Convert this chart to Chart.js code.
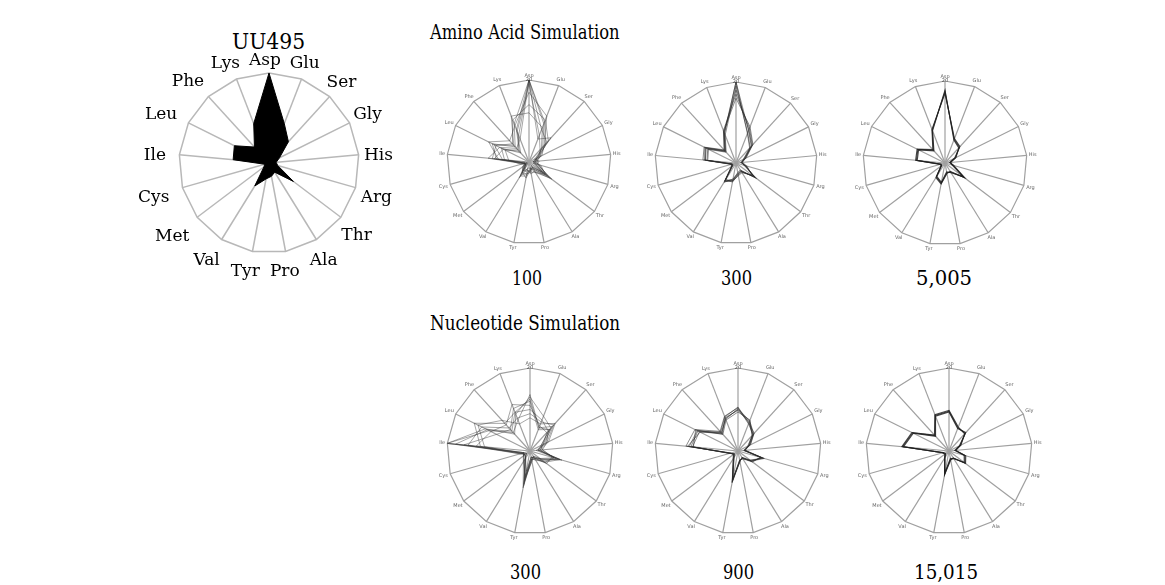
<!DOCTYPE html>
<html>
<head>
<meta charset="utf-8">
<script src="https://cdn.jsdelivr.net/npm/chart.js@4.4.1/dist/chart.umd.min.js"></script>
<style>
  html, body { margin: 0; padding: 0; background: #fff; }
  #fig { position: relative; width: 1165px; height: 585px; overflow: hidden;
         font-family: 'DejaVu Serif Condensed', 'DejaVu Serif', serif; color: #000; }
  .t { position: absolute; white-space: nowrap; line-height: 1; transform-origin: 0 0; }
  canvas { position: absolute; }
</style>
</head>
<body>
<div id="fig">
  <div class="t" data-cx="268" data-w="73" style="top:31px;font-size:22px;">UU495</div>
  <div class="t" data-x="430" data-w="190" style="top:22px;font-size:20px;">Amino Acid Simulation</div>
  <div class="t" data-x="430" data-w="190" style="top:313px;font-size:20px;">Nucleotide Simulation</div>
  <div class="t" data-cx="527" data-w="30" style="top:268px;font-size:21px;">100</div>
  <div class="t" data-cx="736" data-w="31" style="top:268px;font-size:21px;">300</div>
  <div class="t" data-cx="944" data-w="56" style="top:268px;font-size:21px;">5,005</div>
  <div class="t" data-cx="525" data-w="31" style="top:562px;font-size:21px;">300</div>
  <div class="t" data-cx="738" data-w="31" style="top:562px;font-size:21px;">900</div>
  <div class="t" data-cx="946" data-w="64" style="top:562px;font-size:21px;">15,015</div>

  <canvas id="uu495"></canvas>
  <canvas id="aa100"></canvas>
  <canvas id="aa300"></canvas>
  <canvas id="aa5005"></canvas>
  <canvas id="nt300"></canvas>
  <canvas id="nt900"></canvas>
  <canvas id="nt15015"></canvas>
</div>

<script>
// Amino acid axes, clockwise from the top
const residues = ['Asp','Glu','Ser','Gly','His','Arg','Thr','Ala','Pro','Tyr','Val','Met','Cys','Ile','Leu','Phe','Lys'];
const scaleMax = 20;

// Observed composition of UU495
const uu495 = [20, 9.4, 6.4, 2.6, 1.6, 2.0, 6.8, 2.4, 3.0, 3.6, 6.0, 1.4, 1.0, 8.0, 8.6, 4.8, 9.4];

// Amino acid simulation, 100 generations
const aa100_1 = [20, 10, 5, 2, 1.5, 2.5, 6, 2, 2, 3, 3.5, 1, 1.5, 8, 10, 5, 10];
const aa100_2 = [19, 7, 4, 3, 2, 1.5, 4.5, 1.5, 2.5, 2, 2.5, 1, 1, 6, 7.5, 3, 8];
const aa100_3 = [14, 11, 7, 2.5, 1, 3, 5, 3, 1.5, 3.5, 4, 1.5, 1, 9, 9, 6, 11];
const aa100_4 = [20, 8.5, 6.5, 1.5, 2.5, 2, 7, 2.5, 3, 2, 2, 0.5, 2, 5, 6.5, 4, 7];
const aa100_5 = [17, 12, 5.5, 3.5, 1.5, 1, 4, 1.5, 2, 4, 3, 1.5, 0.5, 7.5, 11, 7, 9.5];
const aa100_6 = [20, 6, 8, 2, 2, 2.5, 5.5, 2, 1.5, 1.5, 4.5, 1, 1.5, 10, 8, 4.5, 6];
const aa100_7 = [12, 9, 4.5, 2.5, 1, 2, 6.5, 3, 2.5, 3, 3, 2, 1, 6.5, 9.5, 5.5, 12];
const aa100_8 = [20, 10.5, 6, 3, 1.5, 1.5, 5, 1, 2, 2.5, 2.5, 1, 1, 8.5, 7, 3.5, 8.5];

// Amino acid simulation, 300 generations
const aa300_1 = [20, 8.6, 5.6, 2.4, 1.4, 2.4, 5.6, 2.4, 2.8, 4.4, 5.2, 1.2, 1.0, 7.6, 8.2, 4.0, 8.0];
const aa300_2 = [17, 9.2, 6.0, 2.6, 1.6, 2.0, 6.0, 2.2, 2.6, 4.0, 5.6, 1.4, 1.2, 8.2, 8.8, 4.4, 8.6];
const aa300_3 = [19, 8.0, 5.2, 2.2, 1.2, 2.6, 5.2, 2.6, 3.0, 4.8, 4.8, 1.0, 0.8, 7.0, 7.6, 3.6, 7.4];
const aa300_4 = [16, 9.6, 6.2, 2.8, 1.4, 2.2, 6.4, 2.0, 2.4, 4.2, 5.0, 1.2, 1.0, 7.8, 8.6, 4.2, 8.4];
const aa300_5 = [20, 7.8, 5.0, 2.0, 1.6, 2.8, 5.0, 2.8, 3.2, 4.6, 5.4, 1.4, 1.2, 7.2, 7.8, 3.8, 7.8];
const aa300_6 = [18, 8.8, 5.8, 2.4, 1.2, 2.4, 5.8, 2.4, 2.8, 4.4, 5.2, 1.0, 1.0, 7.6, 8.4, 4.0, 8.2];

// Amino acid simulation, 5,005 generations
const aa5005_1 = [17.4, 6.2, 5.2, 2.8, 1.2, 2.0, 5.8, 2.6, 2.4, 5.0, 4.0, 1.2, 1.0, 7.0, 7.4, 4.2, 8.6];
const aa5005_2 = [17.0, 6.4, 5.4, 2.6, 1.2, 2.2, 6.0, 2.4, 2.6, 5.2, 4.2, 1.2, 1.0, 7.2, 7.6, 4.4, 8.8];
const aa5005_3 = [17.8, 6.0, 5.0, 3.0, 1.4, 1.8, 5.6, 2.8, 2.2, 4.8, 3.8, 1.0, 1.2, 6.8, 7.2, 4.0, 8.4];

// Nucleotide simulation, 300 generations
const nt300_1 = [13.6, 6, 8, 3.5, 2, 7.5, 3.5, 2, 1.5, 8, 2, 1.5, 2, 20, 11, 6, 8];
const nt300_2 = [10, 8, 6.5, 4.5, 3, 6, 4.5, 2.5, 2, 6, 3, 2, 1.5, 12, 15, 9, 10];
const nt300_3 = [12, 5.5, 7, 3, 2, 8, 3, 1.5, 2.5, 7.5, 2.5, 1, 2.5, 16, 9, 7, 11];
const nt300_4 = [8, 7, 9, 5, 2.5, 5.5, 5, 2, 1.5, 5, 2, 1.5, 2, 11, 14, 10, 7];
const nt300_5 = [13, 9, 7.5, 4, 1.5, 7, 4, 2.5, 2, 9, 3, 2, 1.5, 20, 12, 5.5, 9.5];
const nt300_6 = [11, 6.5, 6, 3.5, 2.5, 6.5, 3.5, 1.5, 2.5, 6.5, 2, 1.5, 2.5, 13, 10.5, 8.5, 12];
const nt300_7 = [9, 7.5, 8.5, 4.5, 2, 7.5, 4.5, 2, 1.5, 7, 2.5, 1, 2, 15, 13, 7.5, 8.5];
const nt300_8 = [12.5, 6, 7, 3, 3, 6, 3, 2, 2, 8.5, 2, 2, 1.5, 18, 11.5, 6.5, 10];

// Nucleotide simulation, 900 generations
const nt900_1 = [10, 7.6, 5.4, 3.0, 1.6, 6.0, 4.0, 2.0, 2.4, 7.2, 2.0, 1.2, 2.0, 11.4, 10.8, 5.8, 8.4];
const nt900_2 = [10.6, 7.2, 5.8, 3.2, 1.4, 5.6, 4.4, 2.2, 2.2, 7.6, 2.2, 1.4, 1.8, 12.2, 10.2, 6.2, 8.8];
const nt900_3 = [9.4, 8.0, 5.0, 2.8, 1.8, 6.4, 3.6, 1.8, 2.6, 6.8, 1.8, 1.0, 2.2, 10.8, 11.4, 5.4, 8.0];
const nt900_4 = [10.2, 7.8, 5.6, 3.4, 1.6, 5.8, 4.2, 2.0, 2.4, 7.4, 2.0, 1.2, 2.0, 11.8, 11.0, 6.0, 8.2];
const nt900_5 = [9.8, 7.4, 5.2, 2.6, 1.6, 6.2, 3.8, 2.2, 2.2, 7.0, 2.2, 1.4, 2.0, 11.0, 10.4, 5.6, 8.6];
const nt900_6 = [10.4, 7.0, 5.4, 3.0, 1.4, 6.6, 4.0, 1.8, 2.6, 7.8, 1.8, 1.2, 1.8, 12.6, 11.6, 6.4, 9.0];

// Nucleotide simulation, 15,015 generations
const nt15015_1 = [9.6, 6.0, 5.8, 3.0, 1.6, 4.0, 4.8, 2.0, 2.0, 5.6, 2.0, 1.2, 1.6, 11.2, 9.8, 5.0, 9.2];
const nt15015_2 = [9.8, 6.2, 5.6, 3.2, 1.6, 4.2, 5.0, 2.0, 2.2, 5.8, 2.0, 1.2, 1.6, 11.4, 10.0, 5.2, 9.4];
const nt15015_3 = [9.4, 5.8, 6.0, 2.8, 1.4, 3.8, 4.6, 2.2, 1.8, 5.4, 1.8, 1.0, 1.4, 11.0, 9.6, 4.8, 9.0];

// Fit each heading/caption to its width and place it (left edge or centre)
document.querySelectorAll('#fig .t').forEach(el => {
  const natural = el.offsetWidth;
  const target = parseFloat(el.dataset.w);
  const left = el.dataset.cx !== undefined ? parseFloat(el.dataset.cx) - target / 2 : parseFloat(el.dataset.x);
  el.style.left = left + 'px';
  el.style.transform = 'scaleX(' + (target / natural) + ')';
});

// Axis names centred just outside the outer ring, pushed out by their own extent
const outerLabels = {
  id: 'outerLabels',
  afterDraw(chart, args, opts) {
    const s = chart.scales.r;
    const ctx = chart.ctx;
    ctx.save();
    ctx.font = opts.font;
    ctx.fillStyle = opts.color;
    ctx.textAlign = 'center';
    ctx.textBaseline = 'middle';
    chart.data.labels.forEach((lab, i) => {
      const w = ctx.measureText(lab).width;
      const a = s.getIndexAngle(i);
      const ext = Math.abs(Math.sin(a)) * w / 2 + Math.abs(Math.cos(a)) * opts.height / 2;
      const p = s.getPointPosition(i, s.drawingArea + opts.gap + ext);
      ctx.fillText(lab, p.x + opts.dx, p.y + opts.dy);
    });
    ctx.restore();
  }
};

function lineSets(series, color, width) {
  return series.map(values => ({
    data: values,
    fill: false,
    borderColor: color,
    borderWidth: width,
    pointRadius: 0,
    tension: 0
  }));
}

function radar(id, cx, cy, radius, datasets, cfg) {
  const canvas = document.getElementById(id);
  const tickPad = cfg.ticks ? 9 : 0;          // tick font 5 + backdrop padding 4
  const side = 2 * radius + tickPad + 2 * cfg.margin;
  canvas.width = side;
  canvas.height = side;
  const chart = new Chart(canvas, {
    type: 'radar',
    data: { labels: residues, datasets: datasets },
    plugins: [outerLabels],
    options: {
      responsive: false,
      animation: false,
      devicePixelRatio: 1,
      layout: { padding: cfg.margin },
      plugins: {
        legend: { display: false },
        tooltip: { enabled: false },
        outerLabels: cfg.labels
      },
      scales: {
        r: {
          min: 0,
          max: scaleMax,
          beginAtZero: true,
          ticks: {
            stepSize: scaleMax,
            display: cfg.ticks,
            showLabelBackdrop: false,
            color: '#555',
            font: { size: 5, family: 'DejaVu Sans' },
            callback: v => v === scaleMax ? String(scaleMax) : ''
          },
          grid: { color: cfg.gridColor, lineWidth: cfg.gridWidth },
          angleLines: { color: cfg.gridColor, lineWidth: cfg.gridWidth },
          pointLabels: { display: false }
        }
      }
    }
  });
  const s = chart.scales.r;
  canvas.style.left = (cx - s.xCenter) + 'px';
  canvas.style.top = (cy - s.yCenter) + 'px';
  return chart;
}

const bigCfg = {
  ticks: false, margin: 50, gridColor: '#b8b8b8', gridWidth: 1.5,
  labels: { font: "17px 'DejaVu Serif', serif", color: '#000', height: 12, gap: 9, dx: -4, dy: 3 }
};
const smallCfg = {
  ticks: true, margin: 12, gridColor: '#a0a0a0', gridWidth: 1.2,
  labels: { font: "5px 'DejaVu Sans', sans-serif", color: '#666', height: 5, gap: 2, dx: 0, dy: 0 }
};

radar('uu495', 269, 163, 90, [{
  data: uu495, fill: true, backgroundColor: '#000', borderColor: '#000',
  borderWidth: 1, pointRadius: 0
}], bigCfg);

radar('aa100', 529, 162, 82,
  lineSets([aa100_1, aa100_2, aa100_3, aa100_4, aa100_5, aa100_6, aa100_7, aa100_8], 'rgba(50,50,50,0.55)', 0.8), smallCfg);
radar('aa300', 736, 163, 81,
  lineSets([aa300_1, aa300_2, aa300_3, aa300_4, aa300_5, aa300_6], 'rgba(40,40,40,0.6)', 0.9), smallCfg);
radar('aa5005', 945, 163, 82,
  lineSets([aa5005_1, aa5005_2, aa5005_3], 'rgba(30,30,30,0.8)', 1.1), smallCfg);
radar('nt300', 530, 451, 83,
  lineSets([nt300_1, nt300_2, nt300_3, nt300_4, nt300_5, nt300_6, nt300_7, nt300_8], 'rgba(50,50,50,0.55)', 0.8), smallCfg);
radar('nt900', 738, 451, 83,
  lineSets([nt900_1, nt900_2, nt900_3, nt900_4, nt900_5, nt900_6], 'rgba(40,40,40,0.6)', 0.9), smallCfg);
radar('nt15015', 949, 451, 83,
  lineSets([nt15015_1, nt15015_2, nt15015_3], 'rgba(30,30,30,0.8)', 1.1), smallCfg);
</script>
</body>
</html>
